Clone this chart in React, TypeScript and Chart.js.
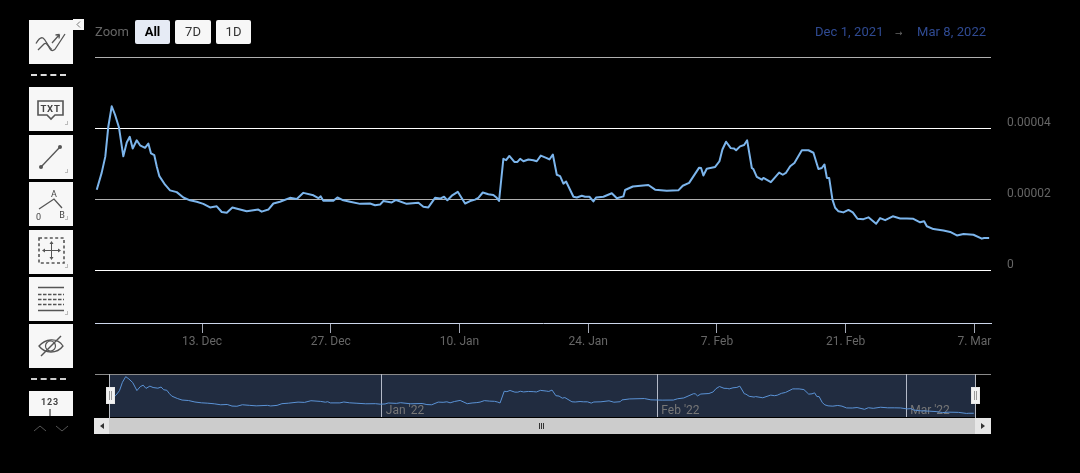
import React, { useEffect, useRef } from "react";
import { Chart, registerables } from "chart.js";

Chart.register(...registerables);

// Days since 1 Dec 2021 00:00
const days = [
  0.55, 1.09, 1.48, 1.81, 2.18, 2.54, 2.97, 3.44, 3.81, 4.14, 4.46, 4.9, 5.26, 5.8, 6.16, 6.45, 6.81, 7.07, 7.36, 7.98,
  8.52, 9.25, 9.97, 10.69, 11.42, 12.14, 12.87, 13.6, 14.14, 14.69, 15.3, 16.13, 16.86, 18.12, 18.49, 19.21, 19.76, 20.48,
  21.57, 22.3, 23.02, 24.11, 24.65, 24.91, 25.19, 26.28, 26.72, 27.37, 28.1, 29.19, 30.27, 30.82, 31.36, 31.72, 32.63, 33.1,
  34.26, 35.53, 36.07, 36.61, 37.34, 37.89, 38.32, 38.68, 39.16, 39.81, 40.61, 41.15, 41.69, 42.05, 42.53, 43.14, 43.68,
  44.05, 44.3, 44.77, 45.07, 45.42, 45.97, 46.3, 46.59, 46.95, 47.49, 48.03, 48.4, 48.84, 49.49, 49.78, 50.15, 50.58, 50.94,
  51.3, 51.59, 52.39, 52.76, 53.3, 53.66, 54.13, 54.56, 54.85, 55.65, 56.56, 57.11, 57.82, 58.01, 58.85, 60.54, 61.27, 62.54,
  63.8, 64.28, 64.97, 66.06, 66.27, 66.52, 66.89, 67.8, 68.27, 68.59, 68.99, 69.5, 69.86, 70.08, 70.51, 70.95, 71.28, 71.79,
  71.96, 72.33, 72.88, 73.05, 73.86, 74.76, 75.16, 75.49, 75.96, 76.42, 77.23, 77.59, 77.95, 78.49, 79.03, 79.4, 79.69, 79.95,
  80.2, 80.56, 80.85, 81.21, 81.75, 82.3, 82.77, 83.28, 83.93, 84.47, 85.31, 85.74, 86.29, 87.12, 87.92, 88.65, 89.36, 90.09,
  90.53, 90.82, 91.54, 92.63, 93.36, 94.09, 94.81, 95.89, 96.8, 97.05, 97.6,
];

// Price, in units of 0.00001
const prices = [
  2.28, 2.76, 3.21, 4.06, 4.63, 4.39, 4.03, 3.22, 3.61, 3.77, 3.44, 3.67, 3.53, 3.46, 3.58, 3.3, 3.25, 2.94, 2.66, 2.42,
  2.26, 2.21, 2.06, 1.98, 1.94, 1.88, 1.78, 1.81, 1.65, 1.63, 1.78, 1.72, 1.67, 1.72, 1.66, 1.72, 1.89, 1.94,
  2.05, 2.02, 2.19, 2.12, 2.04, 2.09, 1.97, 1.97, 2.06, 1.98, 1.94, 1.88, 1.89, 1.84, 1.86, 1.96, 1.92, 1.99,
  1.88, 1.91, 1.8, 1.78, 2.05, 2.03, 2.08, 1.98, 2.11, 2.22, 1.89, 1.96, 2.0, 2.05, 2.2, 2.15, 2.13,
  2.05, 1.96, 3.15, 3.11, 3.23, 3.06, 3.06, 3.15, 3.08, 3.13, 3.11, 3.08, 3.24, 3.17, 3.13, 3.27, 2.7, 2.66,
  2.45, 2.51, 2.08, 2.06, 2.11, 2.08, 2.08, 1.95, 2.06, 2.08, 2.18, 2.04, 2.09, 2.27, 2.37, 2.41, 2.28, 2.25,
  2.26, 2.39, 2.47, 2.9, 2.89, 2.68, 2.87, 2.92, 3.08, 3.41, 3.63, 3.45, 3.44, 3.39, 3.5, 3.54, 3.67, 2.89,
  2.86, 2.64, 2.56, 2.61, 2.49, 2.76, 2.7, 2.75, 2.94, 3.03, 3.39, 3.39, 3.39, 3.32, 2.86, 2.89, 2.99, 2.61,
  2.61, 2.0, 1.77, 1.67, 1.64, 1.71, 1.64, 1.46, 1.45, 1.5, 1.32, 1.48, 1.42, 1.53, 1.47, 1.47, 1.46, 1.36,
  1.39, 1.25, 1.17, 1.13, 1.09, 0.99, 1.03, 1.01, 0.9, 0.92, 0.92,
];

const UNIT = 1e-5;
const xTickDays = [12, 26, 40, 54, 68, 82, 96];
const xTickLabels = ["13. Dec", "27. Dec", "10. Jan", "24. Jan", "7. Feb", "21. Feb", "7. Mar"];
const yTickValues = [0, 2e-5, 4e-5, 6e-5];
const yTickLabels = ["0", "0.00002", "0.00004", ""];
const navTickDays = [31, 62, 90];
const navTickLabels = ["Jan '22", "Feb '22", "Mar '22"];
const zoomButtons = ["All", "7D", "1D"];
const startDate = "Dec 1, 2021";
const endDate = "Mar 8, 2022";

const DAY_MIN = 0.36;
const DAY_MAX = 97.8;
const FONT = "Roboto, sans-serif";

const points = days.map((d, i) => ({ x: d, y: prices[i] * UNIT }));

const abs = (left: number, top: number, width: number, height: number, extra: any = {}) => ({
  position: "absolute" as const,
  left,
  top,
  width,
  height,
  ...extra,
});

function Corner() {
  return <path d="M39 37.5h-3M38.5 34v4" stroke="#bbb" strokeWidth={1} fill="none" />;
}

function ToolBox({ top, height = 44, corner = true, children }: any) {
  return (
    <svg style={abs(29, top, 44, height, { background: "#f7f7f7", display: "block" })} viewBox={`0 0 44 ${height}`}>
      {children}
      {corner ? <Corner /> : null}
    </svg>
  );
}

const S = "#555";

function Toolbar() {
  return (
    <>
      <ToolBox top={19.5} corner={false}>
        <path d="M7 23.5C9 20 12 17 14 18C17 20 19 27 23 29.5" stroke={S} strokeWidth={1.3} fill="none" />
        <path d="M9 30L15 24C17 22 19 25 21 29C22.5 31.5 25.5 31 27.5 27L36 14" stroke={S} strokeWidth={1.3} fill="none" />
        <path d="M23 23L30.5 14.5M30.5 14.5L26.5 15M30.5 14.5L30 18.5" stroke={S} strokeWidth={1.3} fill="none" />
      </ToolBox>
      <div style={abs(73, 19, 11, 11, { background: "#f7f7f7" })}>
        <svg width={11} height={11} style={{ display: "block" }}>
          <path d="M7 2.5L4 5.5L7 8.5" stroke="#777" fill="none" />
        </svg>
      </div>
      <div style={abs(31, 74, 35, 2, { borderTop: "2px dashed #ddd", height: 0 })} />

      <ToolBox top={87}>
        <path d="M9 14h25v14h-8l-4 4-4-4H9z" stroke={S} strokeWidth={1.6} fill="none" />
        <text x={21.5} y={25} textAnchor="middle" fontFamily={FONT} fontWeight={700} fontSize={9.5} letterSpacing={0.8} fill="#444">TXT</text>
      </ToolBox>
      <ToolBox top={134.5}>
        <path d="M12 32L31 12" stroke={S} strokeWidth={1.3} />
        <circle cx={12} cy={32} r={2} fill={S} />
        <circle cx={31} cy={12} r={2} fill={S} />
      </ToolBox>
      <ToolBox top={182}>
        <path d="M10 27L25 17L33 26" stroke={S} strokeWidth={1.3} fill="none" />
        <text x={25} y={15} textAnchor="middle" fontFamily={FONT} fontSize={9} fill="#444">A</text>
        <text x={33} y={36} textAnchor="middle" fontFamily={FONT} fontSize={9} fill="#444">B</text>
        <text x={9.5} y={38} textAnchor="middle" fontFamily={FONT} fontSize={9} fill="#444">0</text>
      </ToolBox>
      <ToolBox top={229.5}>
        <rect x={10} y={8} width={25} height={25} stroke={S} strokeWidth={1.6} strokeDasharray="3 2.4" fill="none" />
        <path d="M22.5 12v17M14 20.5h17" stroke={S} strokeWidth={1} />
        <path d="M22.5 11l-2 3h4zM22.5 30l-2-3h4zM13 20.5l3-2v4zM32 20.5l-3-2v4z" fill={S} />
      </ToolBox>
      <ToolBox top={276.5}>
        <path d="M9 10.5h26M9 33.5h26" stroke={S} strokeWidth={1.6} />
        <path d="M9 17.5h26M9 22.5h26M9 27.5h26" stroke={S} strokeWidth={1.4} strokeDasharray="3.5 1.5" />
      </ToolBox>
      <ToolBox top={324} corner={false}>
        <path d="M10 22c6-7 18-9 24 0c-6 8-18 8-24 0z" stroke={S} strokeWidth={1.3} fill="none" />
        <circle cx={21.5} cy={22} r={5} stroke={S} strokeWidth={1.2} fill="none" />
        <path d="M12 32L32 12" stroke={S} strokeWidth={1.5} />
      </ToolBox>
      <div style={abs(31, 378, 35, 2, { borderTop: "2px dashed #ccc", height: 0 })} />
      <ToolBox top={391} height={25} corner={false}>
        <text x={21} y={14} textAnchor="middle" fontFamily={FONT} fontWeight={700} fontSize={9} letterSpacing={0.8} fill="#444">123</text>
        <path d="M21 18v7" stroke={S} strokeWidth={1.4} />
      </ToolBox>
      <svg style={abs(29, 420, 44, 14)} viewBox="0 0 44 14">
        <path d="M5 11l6-5l6 5" stroke="#555" fill="none" />
        <path d="M27 6l6 5l6-5" stroke="#555" fill="none" />
      </svg>
    </>
  );
}

function Header() {
  const lefts = [135, 175, 216];
  const widths = [35, 36, 35];
  return (
    <>
      <div style={abs(95, 24, 40, 16, { color: "#666", font: `13px ${FONT}`, lineHeight: "16px" })}>Zoom</div>
      {zoomButtons.map((label, i) => (
        <div
          key={label}
          style={abs(lefts[i], 20, widths[i], 24, {
            background: i === 0 ? "#e6ebf5" : "#f7f7f7",
            color: i === 0 ? "#000" : "#333",
            fontWeight: i === 0 ? 700 : 400,
            fontFamily: FONT,
            fontSize: 13,
            lineHeight: "24px",
            textAlign: "center",
            borderRadius: 2,
          })}
        >
          {label}
        </div>
      ))}
      <div style={abs(815, 24, 80, 16, { color: "#2f4a92", font: `13px ${FONT}`, lineHeight: "16px", whiteSpace: "nowrap", letterSpacing: 0.07 })}>{startDate}</div>
      <div style={abs(895, 25, 12, 16, { color: "#666", fontFamily: "'DejaVu Sans', sans-serif", fontSize: 9, lineHeight: "16px" })}>→</div>
      <div style={abs(917, 24, 80, 16, { color: "#2f4a92", font: `13px ${FONT}`, lineHeight: "16px", whiteSpace: "nowrap", letterSpacing: 0.07 })}>{endDate}</div>
    </>
  );
}

function Handle({ left }: { left: number }) {
  return (
    <svg style={abs(left, 387, 9, 17)} viewBox="0 0 9 17">
      <rect x={0.5} y={0.5} width={8} height={16} fill="#f2f2f2" stroke="#e8e8e8" />
      <path d="M3.5 4v9M5.5 4v9" stroke="#999" />
    </svg>
  );
}

function Scrollbar() {
  return (
    <>
      <div style={abs(94, 418, 897, 16, { background: "#cccccc" })} />
      <div style={abs(94, 418, 15, 16, { background: "#e6e6e6" })} />
      <div style={abs(975, 418, 16, 16, { background: "#e6e6e6" })} />
      <svg style={abs(94, 418, 897, 16)} viewBox="0 0 897 16">
        <path d="M10 5v6l-4-3zM887 5v6l4-3z" fill="#333" />
        <path d="M445.5 5v6M447.5 5v6M449.5 5v6" stroke="#333" />
      </svg>
    </>
  );
}

export default function App() {
  const mainRef = useRef<HTMLCanvasElement>(null);
  const navRef = useRef<HTMLCanvasElement>(null);

  useEffect(() => {
    const main = new Chart(mainRef.current as HTMLCanvasElement, {
      type: "line",
      data: {
        datasets: [
          { data: points, borderColor: "#7cb5ec", borderWidth: 2, pointRadius: 0, tension: 0, borderJoinStyle: "round" },
        ],
      },
      options: {
        animation: false,
        responsive: false,
        events: [],
        layout: { padding: { left: 95, top: 57, right: 0, bottom: 0 } },
        plugins: { legend: { display: false }, tooltip: { enabled: false } },
        scales: {
          x: {
            type: "linear",
            min: DAY_MIN,
            max: DAY_MAX,
            afterBuildTicks: (s: any) => {
              s.ticks = xTickDays.map((value) => ({ value }));
            },
            afterFit: (s: any) => {
              s.height = 50;
            },
            grid: { drawOnChartArea: false, drawTicks: true, tickLength: 10, tickColor: "#a4a9b6", lineWidth: 1 },
            border: { display: true, color: "#ccd6eb", width: 1 },
            ticks: {
              autoSkip: false,
              maxRotation: 0,
              padding: 2,
              color: "#666",
              font: { family: FONT, size: 12 },
              callback: (v: any) => xTickLabels[xTickDays.indexOf(v)] ?? "",
            },
          },
          y: {
            type: "linear",
            position: "right",
            min: -1.476e-5,
            max: 6.017e-5,
            afterBuildTicks: (s: any) => {
              s.ticks = yTickValues.map((value) => ({ value }));
            },
            afterFit: (s: any) => {
              s.width = 89;
            },
            grid: { drawTicks: false, color: ["#ffffff", "#b0b0b0", "#ffffff", "#b0b0b0"], lineWidth: 1 },
            border: { display: false },
            ticks: {
              padding: 16,
              labelOffset: -6,
              color: "#666",
              font: { family: FONT, size: 12 },
              callback: (v: any) => {
                const i = yTickValues.findIndex((t) => Math.abs(t - v) < 1e-9);
                return i >= 0 ? yTickLabels[i] : "";
              },
            },
          },
        },
      },
    } as any);

    const nav = new Chart(navRef.current as HTMLCanvasElement, {
      type: "line",
      data: {
        datasets: [{ data: points, borderColor: "#5b93d6", borderWidth: 1, pointRadius: 0, tension: 0 }],
      },
      options: {
        animation: false,
        responsive: false,
        events: [],
        layout: { padding: 0 },
        plugins: { legend: { display: false }, tooltip: { enabled: false } },
        scales: {
          x: {
            type: "linear",
            min: DAY_MIN - 0.06,
            max: DAY_MAX - 0.06,
            afterBuildTicks: (s: any) => {
              s.ticks = navTickDays.map((value) => ({ value }));
            },
            afterFit: (s: any) => {
              s.height = 0;
            },
            grid: { color: "#b4bac8", lineWidth: 1, drawTicks: false },
            border: { display: false },
            ticks: {
              autoSkip: false,
              maxRotation: 0,
              align: "start",
              mirror: true,
              labelOffset: 4,
              padding: -1,
              color: "#777",
              font: { family: FONT, size: 12 },
              callback: (v: any) => navTickLabels[navTickDays.indexOf(v)] ?? "",
            },
          },
          y: {
            type: "linear",
            display: false,
            min: 0.54e-5,
            max: 4.9e-5,
            afterFit: (s: any) => {
              s.width = 0;
            },
          },
        },
      },
    } as any);

    return () => {
      main.destroy();
      nav.destroy();
    };
  }, []);

  return (
    <div style={{ position: "fixed", left: 0, top: 0, width: 1080, height: 473, background: "#000", overflow: "hidden" }}>
      <canvas ref={mainRef} width={1080} height={373} style={abs(0, 0, 1080, 373, { display: "block" })} />
      <div style={abs(109, 374, 866, 43, { background: "#212c40" })} />
      <div style={abs(95, 373.5, 896, 1, { background: "#8a8a8a" })} />
      <canvas ref={navRef} width={866} height={43} style={abs(109, 374, 866, 43, { display: "block" })} />
      <div style={abs(109, 374, 1, 44, { background: "#b8bcc4" })} />
      <div style={abs(974.5, 374, 1, 44, { background: "#b8bcc4" })} />
      <Scrollbar />
      <Handle left={105.5} />
      <Handle left={970.5} />
      <Toolbar />
      <Header />
    </div>
  );
}
